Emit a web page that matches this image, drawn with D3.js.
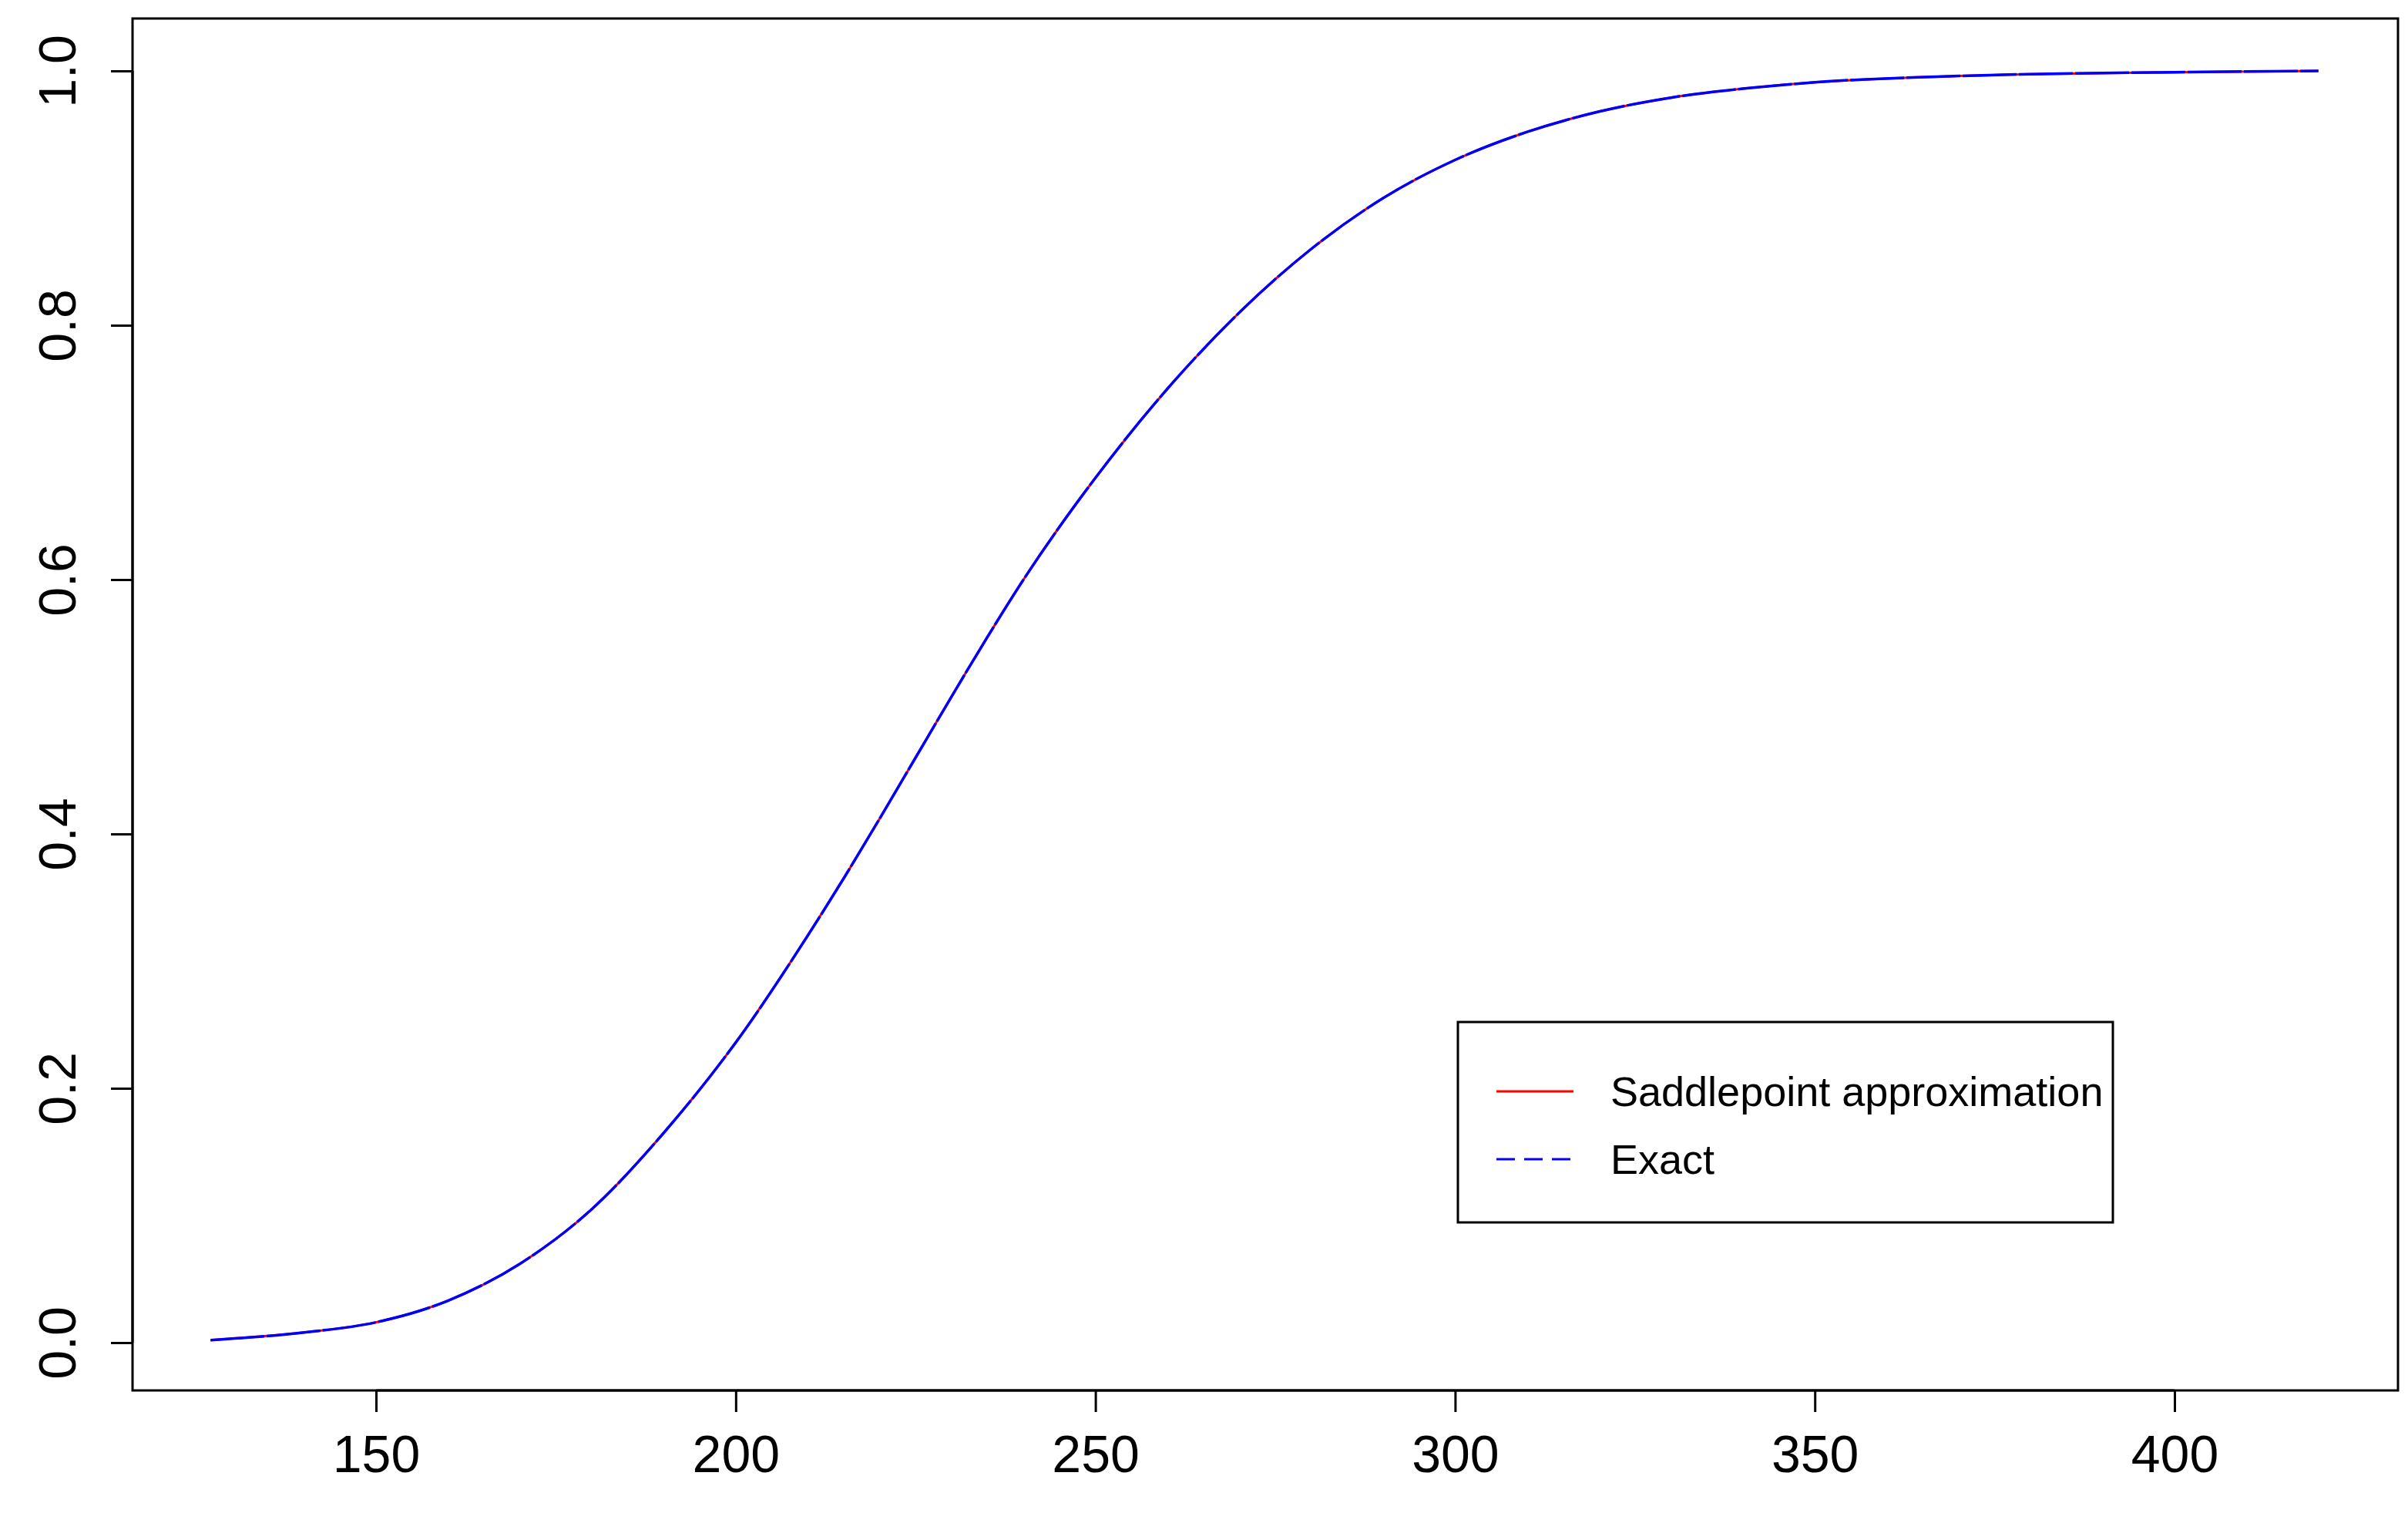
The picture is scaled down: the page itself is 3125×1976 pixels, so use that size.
<!DOCTYPE html>
<html>
<head>
<meta charset="utf-8">
<script src="https://cdn.jsdelivr.net/npm/d3@7"></script>
<style>
  body { margin: 0; background: #fff; }
  text { font-family: "Liberation Sans", Arial, sans-serif; }
</style>
</head>
<body>
<svg id="chart" width="3125" height="1976"></svg>
<script>
// values
var xs = [127, 140, 150, 160, 170, 180, 190, 200, 210, 215, 220, 225, 230, 235, 240, 250, 260, 270, 280, 290, 300, 310, 320, 330, 340, 350, 370, 400, 420];
var saddle = [0.002, 0.008, 0.016, 0.033, 0.062, 0.105, 0.165, 0.236, 0.32, 0.365, 0.412, 0.46, 0.508, 0.555, 0.60, 0.68, 0.75, 0.81, 0.86, 0.90, 0.93, 0.952, 0.968, 0.979, 0.986, 0.991, 0.996, 0.999, 1.0];
var exact = [0.002, 0.008, 0.016, 0.033, 0.062, 0.105, 0.165, 0.236, 0.32, 0.365, 0.412, 0.46, 0.508, 0.555, 0.60, 0.68, 0.75, 0.81, 0.86, 0.90, 0.93, 0.952, 0.968, 0.979, 0.986, 0.991, 0.996, 0.999, 1.0];
var xTicks = [150, 200, 250, 300, 350, 400];
var yTicks = [0.0, 0.2, 0.4, 0.6, 0.8, 1.0];
var legendLabels = ["Saddlepoint approximation", "Exact"];

var svg = d3.select("#chart");

// plot box
var box = {left: 172, right: 3112, top: 24, bottom: 1804};

var x = d3.scaleLinear().domain([150, 400]).range([488, 2822]);
var y = d3.scaleLinear().domain([0, 1]).range([1742, 92]);

svg.append("rect")
  .attr("x", box.left).attr("y", box.top)
  .attr("width", box.right - box.left).attr("height", box.bottom - box.top)
  .attr("fill", "none").attr("stroke", "#000").attr("stroke-width", 3);

// x axis
var xAxis = svg.append("g").attr("transform", "translate(0," + box.bottom + ")")
  .call(d3.axisBottom(x).tickValues(xTicks).tickSize(28).tickPadding(30).tickFormat(d3.format("d")));
xAxis.select(".domain").attr("d", "M" + x(150) + ",0H" + x(400)).attr("stroke-width", 3);
xAxis.selectAll(".tick line").attr("stroke-width", 3);
xAxis.selectAll("text").attr("font-size", 68).attr("fill", "#000");

// y axis
var yAxis = svg.append("g").attr("transform", "translate(" + box.left + ",0)")
  .call(d3.axisLeft(y).tickValues(yTicks).tickSize(28).tickPadding(12).tickFormat(d3.format(".1f")));
yAxis.select(".domain").attr("d", "M0," + y(0) + "V" + y(1)).attr("stroke-width", 3);
yAxis.selectAll(".tick line").attr("stroke-width", 3);
yAxis.selectAll("text")
  .attr("font-size", 68).attr("fill", "#000")
  .attr("transform", "rotate(-90)")
  .attr("x", 0).attr("y", -98)
  .attr("text-anchor", "middle").attr("dy", "0.35em");

var line = d3.line().curve(d3.curveMonotoneX);

svg.append("path")
  .attr("d", line(xs.map((d, i) => [x(d), y(saddle[i])])))
  .attr("fill", "none").attr("stroke", "#ff0000").attr("stroke-width", 3);
svg.append("path")
  .attr("d", line(xs.map((d, i) => [x(d), y(exact[i])])))
  .attr("fill", "none").attr("stroke", "#0000ff").attr("stroke-width", 3.5)
  .attr("stroke-dasharray", "70,3");

// legend
var lg = svg.append("g");
lg.append("rect")
  .attr("x", 1892).attr("y", 1326).attr("width", 850).attr("height", 260)
  .attr("fill", "none").attr("stroke", "#000").attr("stroke-width", 3);
var colors = ["#ff0000", "#0000ff"];
var dashes = [null, "24,12"];
legendLabels.forEach(function(lbl, i) {
  var ly = 1416 + i * 88;
  lg.append("line")
    .attr("x1", 1942).attr("x2", 2042).attr("y1", ly).attr("y2", ly)
    .attr("stroke", colors[i]).attr("stroke-width", 3)
    .attr("stroke-dasharray", dashes[i]);
  lg.append("text")
    .attr("x", 2090).attr("y", ly).attr("dy", "0.35em")
    .attr("font-size", 54).text(lbl);
});
</script>
</body>
</html>
